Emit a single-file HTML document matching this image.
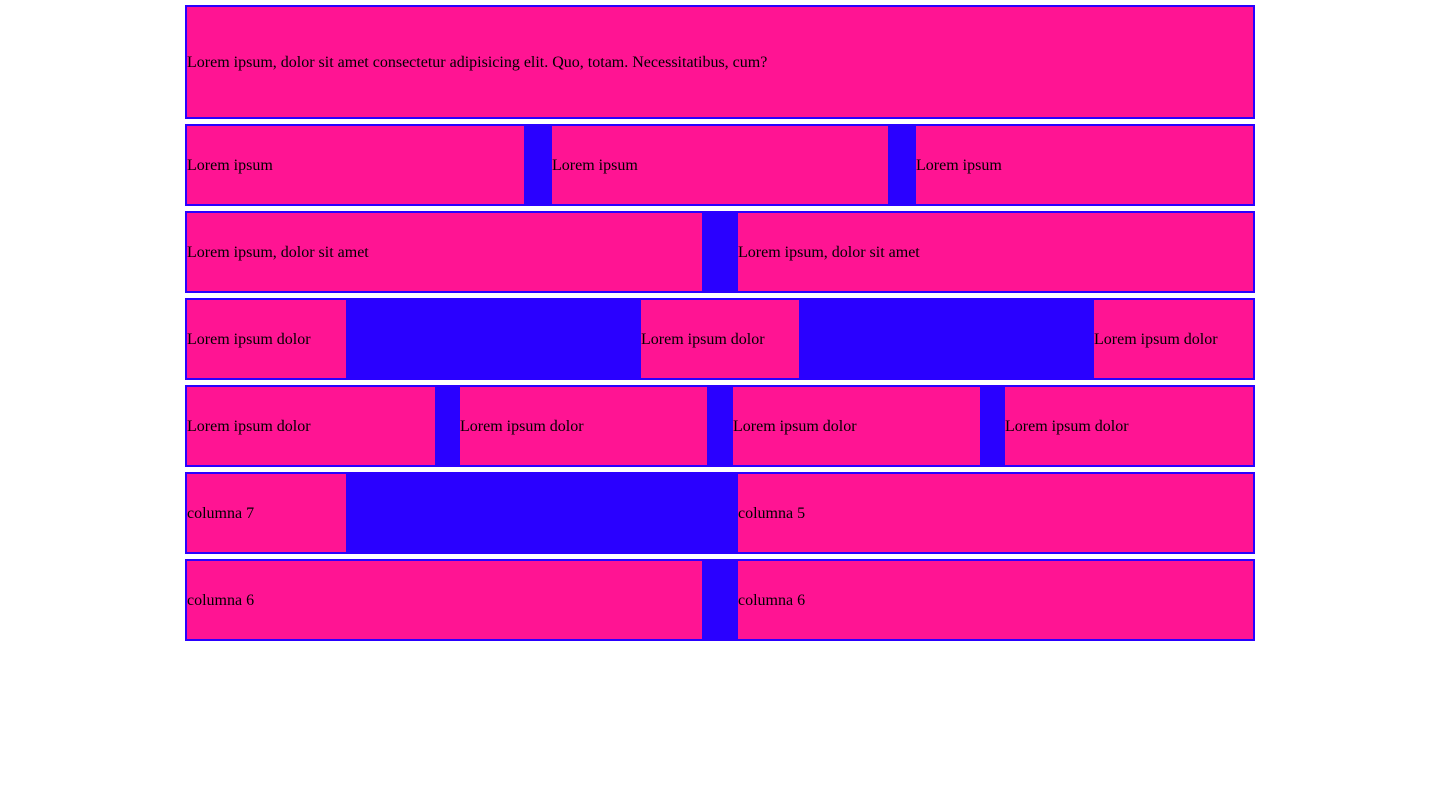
<!DOCTYPE html>
<html><head><style>
html,body{margin:0;padding:0;background:#fff;width:1440px;height:789px;overflow:hidden}
.r{position:absolute;left:185px;width:1066px;border:2px solid #2a00ff;background:#2a00ff}
.c{position:absolute;top:0;bottom:0;background:#ff1493;display:flex;align-items:center;font-family:"Liberation Serif",serif;font-size:16px;color:#000;white-space:nowrap;padding-top:2px;box-sizing:border-box}
</style></head><body>
<div class="r" style="top:5px;height:110px"><div class="c" style="left:0;width:1066px">Lorem ipsum, dolor sit amet consectetur adipisicing elit. Quo, totam. Necessitatibus, cum?</div></div>
<div class="r" style="top:124px;height:78px">
<div class="c" style="left:0;width:337px">Lorem ipsum</div>
<div class="c" style="left:365px;width:336px">Lorem ipsum</div>
<div class="c" style="left:729px;width:337px">Lorem ipsum</div></div>
<div class="r" style="top:211px;height:78px">
<div class="c" style="left:0;width:515px">Lorem ipsum, dolor sit amet</div>
<div class="c" style="left:551px;width:515px">Lorem ipsum, dolor sit amet</div></div>
<div class="r" style="top:298px;height:78px">
<div class="c" style="left:0;width:159px">Lorem ipsum dolor</div>
<div class="c" style="left:454px;width:158px">Lorem ipsum dolor</div>
<div class="c" style="left:907px;width:159px">Lorem ipsum dolor</div></div>
<div class="r" style="top:385px;height:78px">
<div class="c" style="left:0;width:248px">Lorem ipsum dolor</div>
<div class="c" style="left:273px;width:247px">Lorem ipsum dolor</div>
<div class="c" style="left:546px;width:247px">Lorem ipsum dolor</div>
<div class="c" style="left:818px;width:248px">Lorem ipsum dolor</div></div>
<div class="r" style="top:472px;height:78px">
<div class="c" style="left:0;width:159px">columna 7</div>
<div class="c" style="left:551px;width:515px">columna 5</div></div>
<div class="r" style="top:559px;height:78px">
<div class="c" style="left:0;width:515px">columna 6</div>
<div class="c" style="left:551px;width:515px">columna 6</div></div>
</body></html>
